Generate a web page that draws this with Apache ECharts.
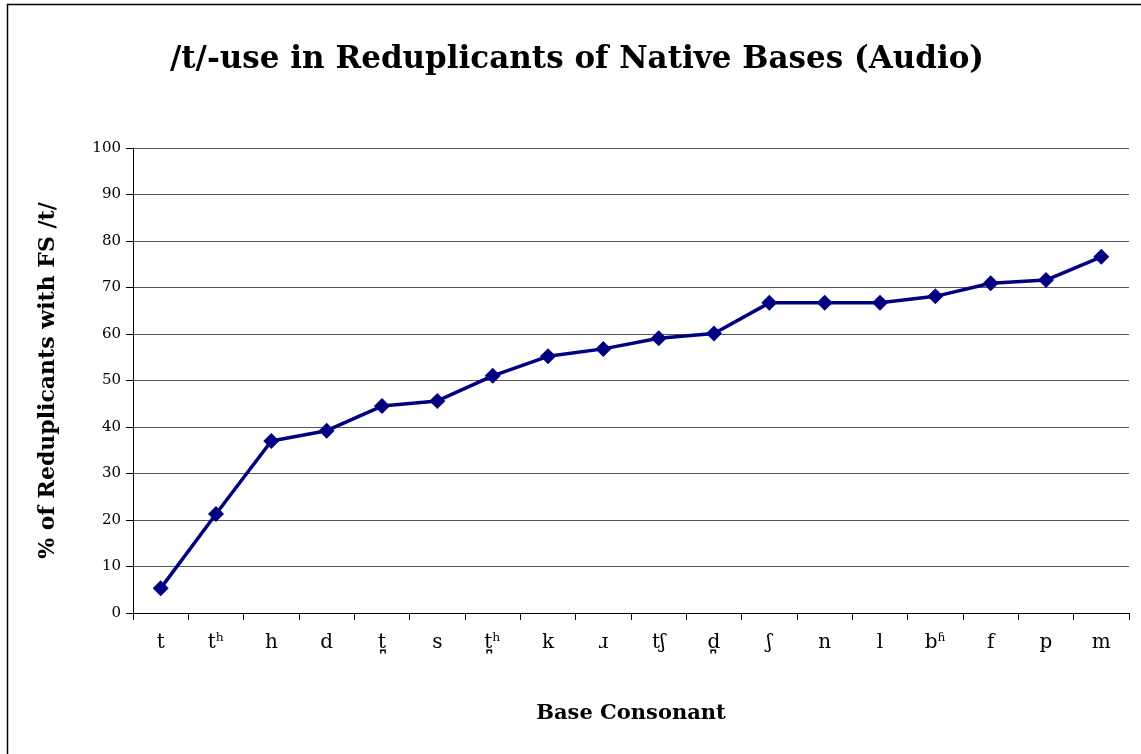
<!DOCTYPE html>
<html><head><meta charset="utf-8">
<script src="https://cdn.jsdelivr.net/npm/echarts@6/dist/echarts.min.js"></script>
<style>html,body{margin:0;padding:0;background:#fff}#c{width:1141px;height:754px}</style>
</head><body><div id="c"></div>
<script>
const categories = ['t','tʰ','h','d','t̪','s','t̪ʰ','k','ɹ','tʃ','d̪','ʃ','n','l','bʱ','f','p','m'];
const values = [5.3, 21.3, 37.0, 39.2, 44.5, 45.6, 51.0, 55.2, 56.8, 59.1, 60.1, 66.7, 66.7, 66.7, 68.1, 70.9, 71.6, 76.6];
const yTicks = [0, 100, 10];
const serif = '"DejaVu Serif", "Liberation Serif", serif';
const chart = echarts.init(document.getElementById('c'));
chart.setOption({
  animation: false,
  backgroundColor: '#fff',
  graphic: [{type:'rect', shape:{x:7.5,y:4.5,width:1160,height:800}, style:{fill:'none',stroke:'#000',lineWidth:1.5}, z:-1}],
  title: {text:'/t/-use in Reduplicants of Native Bases (Audio)', left:572, top:39, textAlign:'center',
    textStyle:{fontFamily:serif, fontSize:31, fontWeight:'bold', color:'#000'}},
  grid: {left:133, right:12, top:148, bottom:141},
  xAxis: {type:'category', data:categories, boundaryGap:true,
    name:'Base Consonant', nameLocation:'middle', nameGap:90,
    nameTextStyle:{fontFamily:serif, fontSize:21, fontWeight:'bold', color:'#000'},
    axisLine:{lineStyle:{color:'#000', width:1}},
    axisTick:{show:true, inside:false, length:7, alignWithLabel:false, lineStyle:{color:'#000'}},
    axisLabel:{fontFamily:serif, fontSize:20, color:'#000', margin:20, interval:0}},
  yAxis: {type:'value', min:yTicks[0], max:yTicks[1], interval:yTicks[2],
    name:'% of Reduplicants with FS /t/', nameLocation:'middle', nameGap:74,
    nameTextStyle:{fontFamily:serif, fontSize:22, fontWeight:'bold', color:'#000'},
    axisLine:{show:true, lineStyle:{color:'#000', width:1}},
    axisTick:{show:true, length:7, lineStyle:{color:'#000'}},
    axisLabel:{fontFamily:serif, fontSize:15, color:'#000', margin:12},
    splitLine:{lineStyle:{color:'#555', width:1}}},
  series: [{type:'line', data:values, symbol:'diamond', symbolSize:16,
    lineStyle:{color:'#000080', width:3.5}, itemStyle:{color:'#000080'}}]
});
</script></body></html>
